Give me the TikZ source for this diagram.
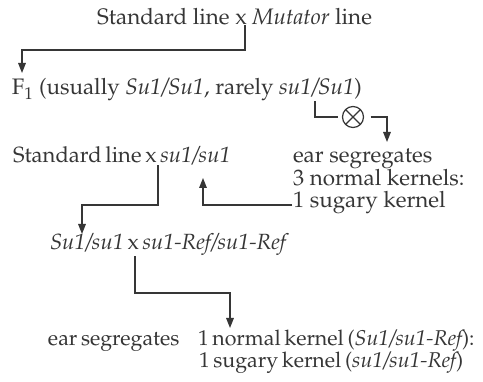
\documentclass[tikz,border=0pt]{standalone}
\usepackage[T1]{fontenc}
\usepackage{mathpazo}
\usetikzlibrary{arrows.meta}
\definecolor{ink}{HTML}{363636}
\newcommand\narrowspaces{\spaceskip=0.17em plus 0.05em minus 0.02em\relax}
\begin{document}
\begin{tikzpicture}[x=1pt,y=-1pt,
  every node/.style={inner sep=0pt,outer sep=0pt,text=ink,
    font=\fontsize{22.4}{26}\selectfont},
  lbl/.style={anchor=base west},
  tight/.style={font=\fontsize{22}{26}\selectfont\narrowspaces},
  small/.style={font=\fontsize{21.4}{26}\selectfont\narrowspaces},
  conn/.style={draw=ink,line width=1.5pt},
  arr/.style={conn,-{Triangle[length=10pt,width=7.5pt]}}]
\useasboundingbox[fill=white] (0,0) rectangle (483,382);

% crosses and progeny
\node[lbl] (top)  at (97,25)  {Standard line x \textit{Mutator} line};
\node[lbl] (f1)   at (12,95)  {F$_1$ (usually \textit{Su1/Su1}, rarely \textit{su1/Su1})};
\node[lbl,tight] (std)  at (13,163) {Standard line x \textit{su1/su1}};
\node[lbl] (segA) at (293,163) {ear segregates};
\node[lbl] (segB) at (293,186) {3 normal kernels:};
\node[lbl] (segC) at (293,208) {1 sugary kernel};
\node[lbl,tight] (het)  at (50,250) {\textit{Su1/su1} x \textit{su1-Ref/su1-Ref}};
\node[lbl,small] (botA) at (48,346) {ear segregates};
\node[lbl,small] (botB) at (198,346) {1 normal kernel (\textit{Su1/su1-Ref\nocorr}):};
\node[lbl,small] (botC) at (199,368) {1 sugary kernel (\textit{su1/su1-Ref\nocorr})};

% selfing symbol
\node[circle,draw=ink,line width=1.2pt,minimum size=21pt] (self) at (353,117) {};
\draw[ink,line width=1.2pt] (self.north west) -- (self.south east)
  (self.north east) -- (self.south west);

% connectors
\draw[arr] (245,0 |- top.south) -- (245,50) -- (22,50) -- (22,73);
\draw[conn] (315,0 |- f1.south) -- (315,117) -- ([xshift=-5pt]self.west);
\draw[arr] ([xshift=7pt]self.east) -- (387,117) -- (387,142);
\draw[arr] (158,0 |- std.south) -- (158,205) -- (82,205) -- (82,234);
\draw[arr] ([xshift=-1pt]segC.west |- 0,205) -- (203,205) -- (203,178);
\draw[arr] (135,0 |- het.south) -- (135,293) -- (230,293) -- (230,328);
\end{tikzpicture}
\end{document}
